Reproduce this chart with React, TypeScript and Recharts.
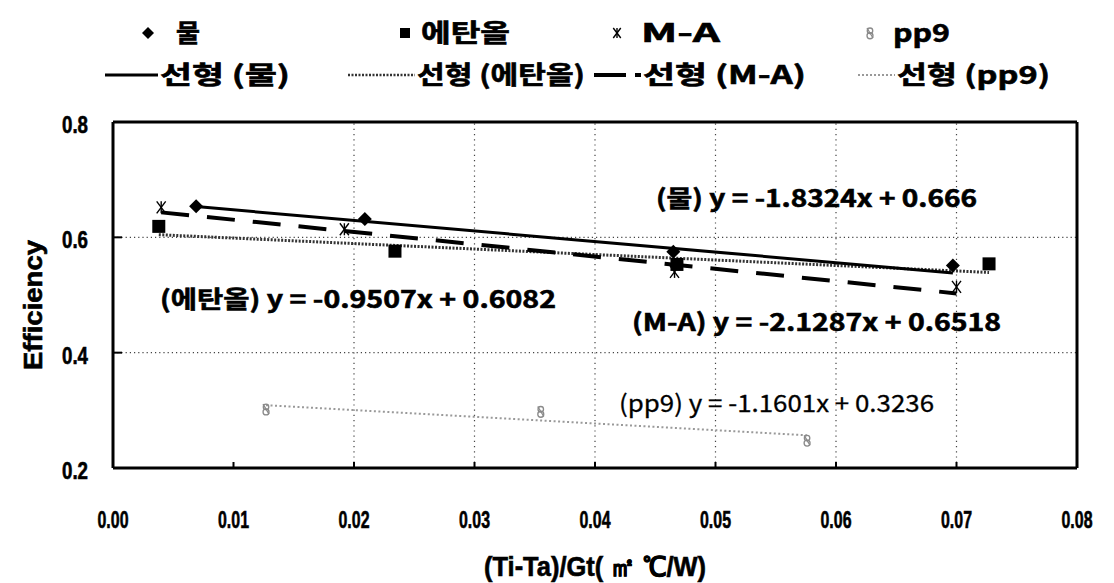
import React from 'react';
import { ComposedChart, XAxis, YAxis, Scatter, Line, ReferenceLine } from 'recharts';

// Axis ticks and grid positions
const xTicks = [0, 0.01, 0.02, 0.03, 0.04, 0.05, 0.06, 0.07, 0.08];
const yTicks = [0.2, 0.4, 0.6, 0.8];
const xGrid = [0.02, 0.03, 0.04, 0.05, 0.06, 0.07];
const yGrid = [0.4, 0.6];

// Measured efficiency per fluid
const waterX = [0.0069, 0.0209, 0.0465, 0.0697];
const waterY = [0.654, 0.632, 0.575, 0.551];
const ethanolX = [0.0038, 0.0234, 0.0468, 0.0727];
const ethanolY = [0.619, 0.576, 0.553, 0.554];
const maX = [0.004, 0.0192, 0.0466, 0.07];
const maY = [0.652, 0.614, 0.54, 0.514];
const pp9X = [0.0127, 0.0355, 0.0576];
const pp9Y = [0.302, 0.298, 0.248];

// Linear fit coefficients (y = slope * x + intercept)
const seriesNames = ['물', '에탄올', 'M-A', 'pp9'];
const slopes = [-1.8324, -0.9507, -2.1287, -1.1601];
const intercepts = [0.666, 0.6082, 0.6518, 0.3236];
const equationLabels = [
  '(물) y = -1.8324x + 0.666',
  '(에탄올)  y = -0.9507x + 0.6082',
  '(M-A) y = -2.1287x + 0.6518',
  '(pp9) y = -1.1601x + 0.3236',
];

const W = 1114;
const H = 583;
const LEFT = 113;
const RIGHT = 1077;
const TOP = 122;
const BOTTOM = 468;

const KFONT = '"Noto Sans CJK KR", "Liberation Sans", sans-serif';
const NFONT = '"Liberation Sans Narrow", "Liberation Sans", Arial, sans-serif';

const toPoints = (xs: number[], ys: number[]) => xs.map((x, i) => ({ x, y: ys[i] }));

const fitLine = (xs: number[], k: number) => {
  const lo = Math.min(...xs);
  const hi = Math.max(...xs);
  return [
    { x: lo, y: slopes[k] * lo + intercepts[k] },
    { x: hi, y: slopes[k] * hi + intercepts[k] },
  ];
};

// Marker shapes
const Diamond = ({ cx, cy, s = 7 }: any) => (
  <polygon points={`${cx},${cy - s} ${cx + s},${cy} ${cx},${cy + s} ${cx - s},${cy}`} fill="#000" />
);
const Square = ({ cx, cy, s = 6.5 }: any) => (
  <rect x={cx - s} y={cy - s} width={s * 2} height={s * 2} fill="#000" />
);
const Star = ({ cx, cy, s = 6 }: any) => (
  <g stroke="#000" strokeWidth={1.4} fill="none">
    <line x1={cx - s * 0.75} y1={cy - s} x2={cx + s * 0.75} y2={cy + s} />
    <line x1={cx + s * 0.75} y1={cy - s} x2={cx - s * 0.75} y2={cy + s} />
    <line x1={cx} y1={cy - s} x2={cx} y2={cy + s} />
  </g>
);
const Ring = ({ cx, cy, s = 5 }: any) => (
  <g stroke="#8a8a8a" strokeWidth={1.3} fill="none">
    <circle cx={cx} cy={cy - s * 0.45} r={s * 0.55} />
    <circle cx={cx} cy={cy + s * 0.55} r={s * 0.6} />
    <line x1={cx - s * 0.6} y1={cy - s} x2={cx + s * 0.6} y2={cy + s} />
  </g>
);

const heavy = { stroke: '#000', strokeWidth: 0.6 };

const XTick = ({ x, payload }: any) => (
  <g>
    <line x1={x} x2={x} y1={BOTTOM} y2={BOTTOM - 6} stroke="#000" strokeWidth={2} />
    <text
      x={x}
      y={BOTTOM + 60}
      textAnchor="middle"
      fontFamily={NFONT}
      fontWeight="bold"
      fontSize={24}
      textLength={31}
      lengthAdjust="spacingAndGlyphs"
      fill="#000"
      {...heavy}
    >
      {payload.value.toFixed(2)}
    </text>
  </g>
);

const YTick = ({ y, payload }: any) => (
  <g>
    <line x1={LEFT} x2={LEFT + 9} y1={y} y2={y} stroke="#000" strokeWidth={2} />
    <text
      x={88}
      y={y + 11}
      textAnchor="end"
      fontFamily={NFONT}
      fontWeight="bold"
      fontSize={24}
      textLength={26}
      lengthAdjust="spacingAndGlyphs"
      fill="#000"
      {...heavy}
    >
      {payload.value.toFixed(1)}
    </text>
  </g>
);

const XTitle = () => (
  <text
    x={595}
    y={576}
    textAnchor="middle"
    fontFamily={NFONT}
    fontWeight="bold"
    fontSize={27}
    textLength={222}
    lengthAdjust="spacingAndGlyphs"
    fill="#000"
    {...heavy}
  >
    (Ti-Ta)/Gt( ㎡ ℃/W)
  </text>
);

const YTitle = () => (
  <text
    x={0}
    y={0}
    transform="translate(42 305) rotate(-90)"
    textAnchor="middle"
    fontFamily='"Liberation Sans", Arial, sans-serif'
    fontWeight="bold"
    fontSize={25}
    textLength={130}
    lengthAdjust="spacingAndGlyphs"
    fill="#000"
    {...heavy}
  >
    Efficiency
  </text>
);

const legendText = (x: number, y: number, s: string, len: number) => (
  <text
    x={x}
    y={y + 9}
    fontFamily={KFONT}
    fontWeight="bold"
    fontSize={25}
    textLength={len}
    lengthAdjust="spacingAndGlyphs"
    fill="#000"
    {...heavy}
  >
    {s}
  </text>
);

const eqText = (x: number, y: number, s: string, len: number, bold: boolean) => (
  <text
    x={x}
    y={y}
    fontFamily={KFONT}
    fontWeight={bold ? 'bold' : 'normal'}
    fontSize={24}
    textLength={len}
    lengthAdjust="spacingAndGlyphs"
    fill="#000"
    stroke="#000"
    strokeWidth={bold ? 0.6 : 0.3}
  >
    {s}
  </text>
);

const Overlay = () => {
  const r1 = 33;
  const r2 = 75;
  return (
    <svg width={W} height={H} style={{ position: 'absolute', left: 0, top: 0, pointerEvents: 'none' }}>
      {/* legend: markers */}
      <Diamond cx={148} cy={r1} s={6} />
      {legendText(176, r1, seriesNames[0], 24)}
      <Square cx={405} cy={r1} s={5} />
      {legendText(421, r1, seriesNames[1], 89)}
      <Star cx={617} cy={r1} s={5} />
      {legendText(641, r1, seriesNames[2], 79)}
      <Ring cx={870} cy={r1} s={5} />
      {legendText(893, r1, seriesNames[3], 57)}

      {/* legend: fit lines */}
      <line x1={105} x2={158} y1={r2} y2={r2} stroke="#000" strokeWidth={3} />
      {legendText(160, r2, `선형 (${seriesNames[0]})`, 130)}
      <line x1={348} x2={415} y1={r2} y2={r2} stroke="#333" strokeWidth={2.5} strokeDasharray="2 1.5" />
      {legendText(417, r2, `선형 (${seriesNames[1]})`, 168)}
      <line x1={594} x2={626} y1={r2} y2={r2} stroke="#000" strokeWidth={4} />
      <line x1={635} x2={641} y1={r2} y2={r2} stroke="#000" strokeWidth={4} />
      {legendText(643, r2, `선형 (${seriesNames[2]})`, 163)}
      <line x1={858} x2={895} y1={r2} y2={r2} stroke="#999" strokeWidth={2} strokeDasharray="2 2" />
      {legendText(897, r2, `선형 (${seriesNames[3]})`, 153)}

      {/* fit equations */}
      {eqText(656, 207, equationLabels[0], 321, true)}
      {eqText(160, 308, equationLabels[1], 396, true)}
      {eqText(632, 331, equationLabels[2], 369, true)}
      {eqText(619, 412, equationLabels[3], 315, false)}

      <XTitle />
      <YTitle />
    </svg>
  );
};

export default function App() {
  return (
    <div style={{ position: 'relative', width: W, height: H, background: '#fff' }}>
      <style>{'body{margin:0;background:#fff}'}</style>
      <ComposedChart width={W} height={H} margin={{ top: TOP, right: W - RIGHT, bottom: 0, left: 0 }}>
        <XAxis
          type="number"
          dataKey="x"
          domain={[0, 0.08]}
          ticks={xTicks}
          allowDataOverflow
          height={H - BOTTOM}
          axisLine={{ stroke: '#000', strokeWidth: 3 }}
          tickLine={false}
          tickSize={0}
          tick={<XTick />}
          interval={0}
        />
        <YAxis
          type="number"
          domain={[0.2, 0.8]}
          ticks={yTicks}
          allowDataOverflow
          width={LEFT}
          axisLine={{ stroke: '#000', strokeWidth: 3 }}
          tickLine={false}
          tickSize={0}
          tick={<YTick />}
          interval={0}
        />
        {xGrid.map((v) => (
          <ReferenceLine key={`gx${v}`} x={v} stroke="#444" strokeWidth={1.2} strokeDasharray="1.2 4" />
        ))}
        {yGrid.map((v) => (
          <ReferenceLine key={`gy${v}`} y={v} stroke="#444" strokeWidth={1.2} strokeDasharray="1.2 3" />
        ))}
        <ReferenceLine y={0.8} stroke="#000" strokeWidth={3} />
        <ReferenceLine x={0.08} stroke="#000" strokeWidth={3} />

        <Line data={fitLine(pp9X, 3)} dataKey="y" stroke="#999" strokeWidth={2} strokeDasharray="2 2.5" dot={false} isAnimationActive={false} />
        <Line data={fitLine(ethanolX, 1)} dataKey="y" stroke="#333" strokeWidth={3} strokeDasharray="2 1.5" dot={false} isAnimationActive={false} />
        <Line data={fitLine(waterX, 0)} dataKey="y" stroke="#000" strokeWidth={3} dot={false} isAnimationActive={false} />
        <Line data={fitLine(maX, 2)} dataKey="y" stroke="#000" strokeWidth={4} strokeDasharray="28 18" dot={false} isAnimationActive={false} />

        <Scatter data={toPoints(pp9X, pp9Y)} dataKey="y" shape={(p: any) => <Ring cx={p.cx} cy={p.cy} />} isAnimationActive={false} />
        <Scatter data={toPoints(ethanolX, ethanolY)} dataKey="y" shape={(p: any) => <Square cx={p.cx} cy={p.cy} />} isAnimationActive={false} />
        <Scatter data={toPoints(waterX, waterY)} dataKey="y" shape={(p: any) => <Diamond cx={p.cx} cy={p.cy} />} isAnimationActive={false} />
        <Scatter data={toPoints(maX, maY)} dataKey="y" shape={(p: any) => <Star cx={p.cx} cy={p.cy} />} isAnimationActive={false} />
      </ComposedChart>
      <Overlay />
    </div>
  );
}
